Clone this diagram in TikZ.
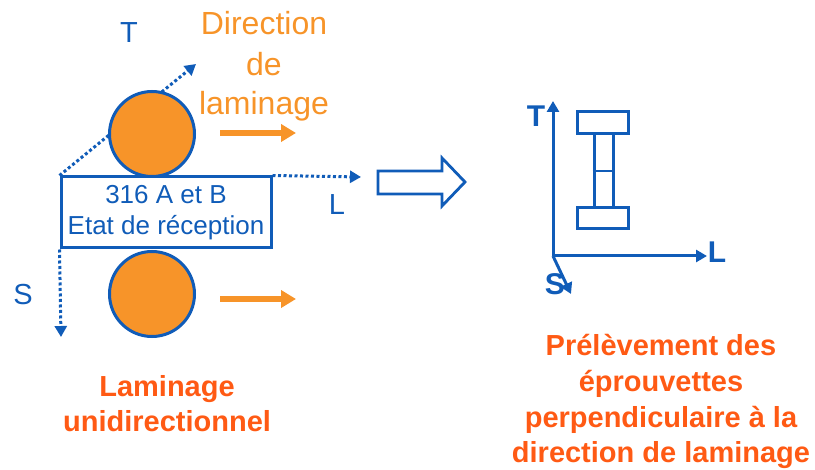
\documentclass[tikz,border=0pt]{standalone}
\usepackage{fontspec}
\setmainfont{Liberation Sans}
\usetikzlibrary{arrows.meta}
\definecolor{cblue}{RGB}{16,92,184}
\definecolor{corange}{RGB}{247,148,41}
\definecolor{cred}{RGB}{255,90,20}
\begin{document}
\begin{tikzpicture}[x=1pt,y=-1pt,
  dotarrow/.style={cblue, line width=3pt, dash pattern=on 3pt off 2.5pt, -{Triangle[length=11pt,width=12pt]}},
  roll/.style={circle, draw=cblue, line width=3pt, fill=corange, minimum size=85pt, inner sep=0pt},
  flowarrow/.style={corange, line width=6pt, -{Triangle[length=15pt,width=17pt]}},
  axis/.style={cblue, line width=3pt, -{Triangle[length=11pt,width=12pt]}},
  bluelbl/.style={cblue, anchor=base, font=\fontsize{29}{32}\selectfont},
  boldlbl/.style={cblue, anchor=base, font=\fontsize{30}{32}\selectfont\bfseries},
  orangelbl/.style={corange, anchor=base, font=\fontsize{32}{38}\selectfont},
  redlbl/.style={cred, anchor=base, font=\fontsize{29}{35}\selectfont\bfseries},
  spec/.style={draw=cblue, line width=3pt, inner sep=0pt}
]
\useasboundingbox (0,0) rectangle (815,470);

% sample box
\node[draw=cblue, line width=3pt, minimum width=210pt, minimum height=71pt, inner sep=0pt,
      align=center, text=cblue, font=\fontsize{26}{31}\selectfont] (box) at (166,212.5)
      {316 A et B\\Etat de réception};

% dotted axes (left)
\coordinate (Ttip) at (196,64);
\coordinate (Ltip) at (361,177);
\coordinate (Stip) at (61,337);
\draw[dotarrow] (box.north west) -- (Ttip);
\draw[dotarrow] (box.north east) -- (Ltip);
\draw[dotarrow] (box.south west) -- (Stip);

% rolls
\node[roll] (roll1) at (152,134) {};
\node[roll] (roll2) at (152,294) {};

% flow arrows
\coordinate (f1s) at (220,133);
\coordinate (f1e) at (296,133);
\coordinate (f2s) at (220,299);
\coordinate (f2e) at (296,299);
\draw[flowarrow] (f1s) -- (f1e);
\draw[flowarrow] (f2s) -- (f2e);

% labels left
\node[bluelbl] (lT) at (129,43) {T};
\node[bluelbl] (lL) at (337,215) {L};
\node[bluelbl] (lS) at (23,305) {S};
\node[orangelbl] (d1) at (264,35) {Direction};
\node[orangelbl] (d2) at (264,76) {de};
\node[orangelbl] (d3) at (264,115) {laminage};

% hollow arrow
\draw[cblue, line width=2.8pt, line join=miter] (378,171) -- (442,171) -- (442,158) -- (465,182)
  -- (442,206) -- (442,194) -- (378,194) -- cycle;

% right axes
\coordinate (O) at (553,256);
\coordinate (OT) at (553,101);
\coordinate (OL) at (707,256);
\coordinate (OS) at (571,294);
\draw[axis] (O) -- (OT);
\draw[axis] (O) -- (OL);
\draw[axis] (O) -- (OS);
\node[boldlbl] (rT) at (536,127) {T};
\node[boldlbl] (rL) at (717,263) {L};
\node[boldlbl] (rS) at (555,295) {S};

% specimen
\node[spec, minimum width=51pt, minimum height=22pt] (headtop) at (602.5,123) {};
\node[spec, minimum width=51pt, minimum height=21pt] (headbot) at (602.5,218.5) {};
\node[spec, minimum width=19pt, minimum height=74pt] (shaft) at (603.5,171) {};
\draw[cblue, line width=2.5pt] (shaft.west) -- (shaft.east);

% bottom captions
\node[redlbl] (c1) at (167,397) {Laminage};
\node[redlbl] (c2) at (167,432) {unidirectionnel};
\node[redlbl] (p1) at (661,356) {Prélèvement des};
\node[redlbl] (p2) at (661,392) {éprouvettes};
\node[redlbl] (p3) at (661,428) {perpendiculaire à la};
\node[redlbl] (p4) at (661,463) {direction de laminage};
\end{tikzpicture}
\end{document}
